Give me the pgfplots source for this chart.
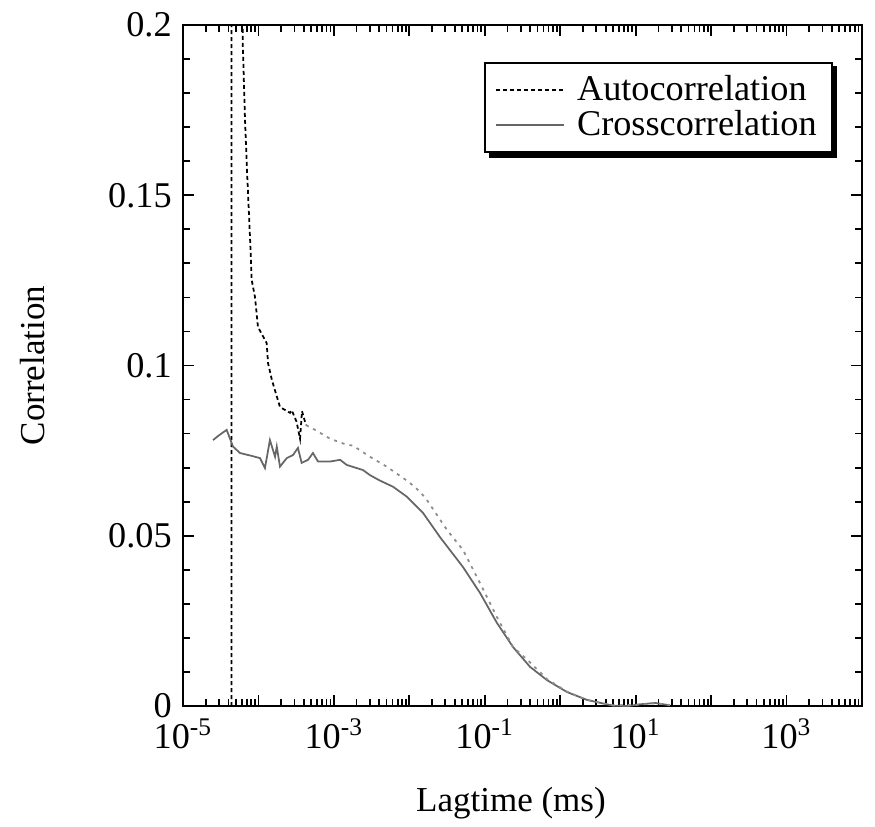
\documentclass[border=0pt]{standalone}
\usepackage{fontspec}
\setmainfont{Liberation Serif}
\usepackage{pgfplots}
\pgfplotsset{compat=1.18}
\usetikzlibrary{backgrounds}

\pgfplotstableread{
x y
4.40e-5 0
4.45e-5 2.0
6.00e-5 0.6
6.18e-5 0.1956
6.64e-5 0.1721
7.05e-5 0.1574
7.73e-5 0.1377
8.14e-5 0.1251
9.00e-5 0.1201
9.86e-5 0.1113
1.285e-4 0.1066
1.34e-4 0.1007
1.51e-4 0.0957
1.93e-4 0.0878
2.62e-4 0.0861
2.76e-4 0.0869
3.20e-4 0.0835
3.56e-4 0.0785
3.78e-4 0.0866
4.27e-4 0.0825
}\autoA

\pgfplotstableread{
x y
4.27e-4 0.0825
5.62e-4 0.0811
8.89e-4 0.0785
1.49e-3 0.0767
1.78e-3 0.0765
3.01e-3 0.0732
5.01e-3 0.0703
8.24e-3 0.0670
1.02e-2 0.0655
1.39e-2 0.0629
1.71e-2 0.0605
3.16e-2 0.0517
5.15e-2 0.0458
8.65e-2 0.0361
0.145 0.0261
0.237 0.0173
0.37 0.0135
0.668 0.0079
1.23 0.0042
2.26 0.0018
5.01 0.0002
11.4 0.0004
18.1 0.0008
28.5 0.0003
}\autoB

\pgfplotstableread{
x y
2.50e-5 0.0781
3.00e-5 0.0795
3.79e-5 0.0811
4.60e-5 0.0762
5.70e-5 0.0743
8.00e-5 0.0735
1.05e-4 0.0728
1.22e-4 0.0699
1.42e-4 0.0781
1.66e-4 0.0732
1.75e-4 0.0762
1.93e-4 0.0703
2.37e-4 0.0728
2.87e-4 0.0737
3.34e-4 0.0758
3.74e-4 0.0714
4.54e-4 0.0723
5.28e-4 0.0743
6.16e-4 0.0718
8.89e-4 0.0718
1.21e-3 0.0723
1.48e-3 0.0708
2.43e-3 0.0693
3.01e-3 0.0678
4.08e-3 0.0662
6.08e-3 0.0644
9.23e-3 0.0615
1.52e-2 0.0567
2.55e-2 0.0496
5.15e-2 0.0408
8.65e-2 0.0332
0.145 0.0244
0.237 0.0173
0.398 0.0115
0.668 0.0076
1.23 0.0041
2.26 0.0018
5.01 0.0001
8.0 0.0
11.4 0.0005
18.1 0.0009
28.5 0.0002
}\cross

\begin{document}
\begin{tikzpicture}
\path[use as bounding box] (-73.2pt,-48pt) rectangle (276.8pt,282.4pt);
\begin{axis}[
  scale only axis,
  width=271.6pt, height=272.4pt,
  xmode=log,
  xmin=1e-5, xmax=1e4,
  ymin=0, ymax=0.2,
  xtick={1e-5,1e-4,1e-3,1e-2,1e-1,1,1e1,1e2,1e3,1e4},
  xticklabels={10\textsuperscript{-5},,10\textsuperscript{-3},,10\textsuperscript{-1},,10\textsuperscript{1},,10\textsuperscript{3},},
  ytick={0,0.05,0.1,0.15,0.2},
  yticklabels={0,0.05,0.1,0.15,0.2},
  minor y tick num=4,
  tick align=inside,
  major tick length=4.5pt,
  minor tick length=2.8pt,
  every tick/.style={black, line width=0.7pt},
  axis line style={line width=0.9pt},
  tick label style={font=\fontsize{14.5}{16}\selectfont},
  xticklabel style={yshift=-4pt, inner ysep=1pt},
  yticklabel style={inner ysep=0pt, xshift=-1pt},
  xlabel={Lagtime (ms)},
  ylabel={Correlation},
  label style={font=\fontsize{14}{16}\selectfont},
  xlabel style={at={(rel axis cs:0.483,-0.142)}, anchor=center},
  ylabel style={at={(rel axis cs:-0.221,0.5)}, anchor=center},
  legend style={at={(rel axis cs:0.957,0.946)}, anchor=north east,
    name=leg, draw=black, line width=0.9pt, fill=white,
    font=\fontsize{14.5}{14}\selectfont, row sep=-1.5pt,
    inner xsep=4pt, inner ysep=3pt},
  legend cell align=left,
  legend image code/.code={\draw[#1, line width=0.7pt] (0pt,0pt) -- (27pt,0pt); \path (30pt,0pt);},
]
\addplot[black, line width=0.7pt, dash pattern=on 1.6pt off 1.2pt] table[x=x,y=y] {\autoA};
\addlegendentry{Autocorrelation}
\addplot[black!60, line width=0.7pt, solid] table[x=x,y=y] {\cross};
\addlegendentry{Crosscorrelation}
\addplot[black!45, line width=0.7pt, dash pattern=on 1.2pt off 2pt, forget plot] table[x=x,y=y] {\autoB};
\end{axis}
\begin{pgfonlayer}{background}
\fill[black] ([xshift=1.8pt,yshift=-1.8pt]leg.south west) rectangle ([xshift=1.8pt,yshift=-1.8pt]leg.north east);
\end{pgfonlayer}
\end{tikzpicture}
\end{document}
